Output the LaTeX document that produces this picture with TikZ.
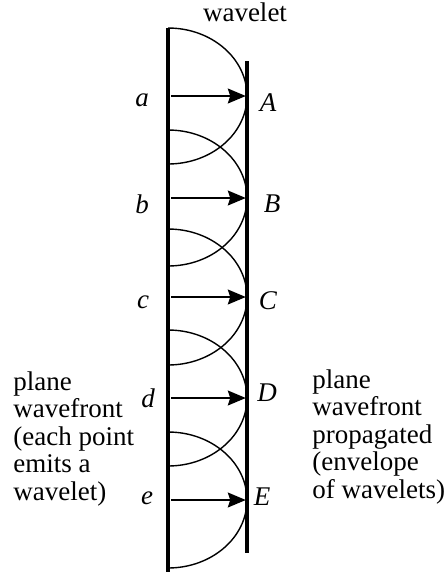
\documentclass[tikz,border=0pt]{standalone}
\usepackage{fontspec}
\setmainfont{Liberation Serif}
\usetikzlibrary{arrows.meta,calc}

\begin{document}
\begin{tikzpicture}[
    x=0.5pt, y=0.5pt,
    >={Stealth[length=9pt,width=7.5pt,inset=1.2pt]},
    front/.style={line width=1.6pt},
    wave/.style={line width=0.7pt},
    ray/.style={->, line width=0.7pt, shorten >=0.6pt},
    pointlabel/.style={font=\fontsize{13.5}{13.5}\selectfont\itshape, inner sep=0pt},
    caption/.style={font=\fontsize{13.5}{13.75}\selectfont, align=left, inner sep=0pt, anchor=north west}
]
\useasboundingbox (0,0) rectangle (448,-574);

% the two fronts
\coordinate (oldtop) at (168,-28);
\coordinate (oldbot) at (168,-572);
\coordinate (newtop) at (247,-61);
\coordinate (newbot) at (247,-553);
\draw[front] (oldtop) -- (oldbot);
\draw[front] (newtop) -- (newbot);

% sources on the plane wavefront
\coordinate (sa) at (168,-96);
\coordinate (sb) at (168,-198);
\coordinate (sc) at (168,-297);
\coordinate (sd) at (168,-398);
\coordinate (se) at (168,-500);

% wavelets and rays
\foreach \s in {sa,sb,sc,sd,se}{
  \draw[wave] ($(\s)+(0,68)$) arc[start angle=90, end angle=-90, x radius=79, y radius=68];
  \draw[ray] ($(\s)+(3,0)$) -- (\s -| newtop);
}

% point labels
\node[pointlabel] (la) at (142,-100) {a};
\node[pointlabel] (lb) at (142,-204) {b};
\node[pointlabel] (lc) at (143,-302) {c};
\node[pointlabel] (ld) at (148,-398) {d};
\node[pointlabel] (le) at (147,-498) {e};
\node[pointlabel] (lA) at (268,-103) {A};
\node[pointlabel] (lB) at (272,-204) {B};
\node[pointlabel] (lC) at (268,-301) {C};
\node[pointlabel] (lD) at (267,-393) {D};
\node[pointlabel] (lE) at (262,-497) {E};

% captions
\node[pointlabel, font=\fontsize{13.5}{13.5}\selectfont, anchor=base] (wavelet) at (245,-21) {wavelet};
\node[caption] (oldcap) at (13,-371) {plane\\wavefront\\(each point\\emits a\\wavelet)};
\node[caption] (newcap) at (312,-369) {plane\\wavefront\\propagated\\(envelope\\of wavelets)};
\end{tikzpicture}
\end{document}
